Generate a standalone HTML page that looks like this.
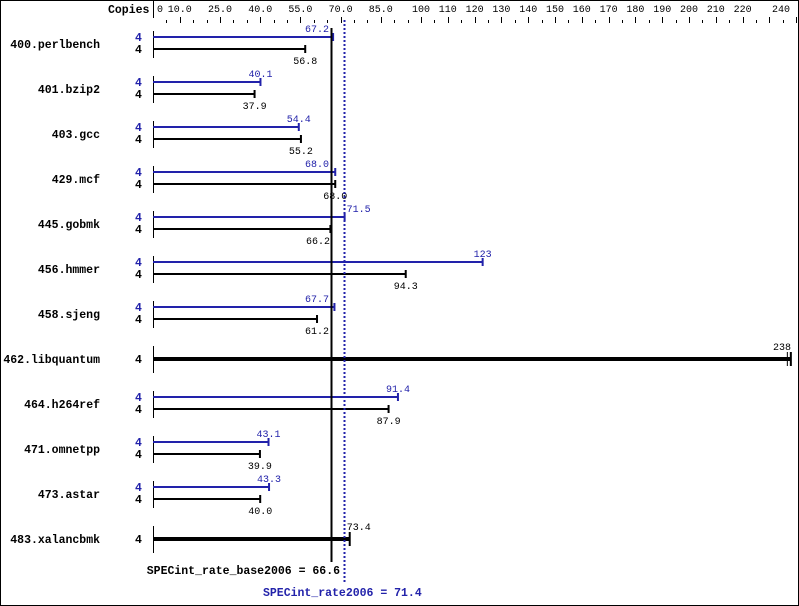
<!DOCTYPE html>
<html><head><meta charset="utf-8"><style>
html,body{margin:0;padding:0;background:#fff;}
svg{display:block;font-family:"Liberation Mono",monospace;}
</style></head><body>
<svg id="s" width="799" height="606" xmlns="http://www.w3.org/2000/svg"></svg>
<script>
var s=document.getElementById('s'),o='';
function X(v){return 153+v*2.68;}
o+='<rect x="0.5" y="0.5" width="798" height="605" fill="#fff" stroke="#000"/>';
o+='<line x1="153.5" y1="0" x2="153.5" y2="18" stroke="#000"/>';
o+='<text x="108" y="13" font-size="11.5" font-weight="bold">Copies</text>';
var labs=[[0,'0'],[10,'10.0'],[25,'25.0'],[40,'40.0'],[55,'55.0'],[70,'70.0'],[85,'85.0'],[100,'100'],[110,'110'],[120,'120'],[130,'130'],[140,'140'],[150,'150'],[160,'160'],[170,'170'],[180,'180'],[190,'190'],[200,'200'],[210,'210'],[220,'220'],[240,'240']];
labs.forEach(function(l){var x=X(l[0]);var a='middle';if(l[0]==0){x=157;a='start';}if(l[0]==240){x=790;a='end';}
o+='<text x="'+x+'" y="12" font-size="10" text-anchor="'+a+'">'+l[1]+'</text>';});
for(var v=5;v<=240;v+=5){var x=Math.round(X(v))+0.5;var tall=(v<100?(v%15==10||v==100):(v%10==0));o+='<line x1="'+x+'" y1="'+(tall?17:20)+'" x2="'+x+'" y2="23" stroke="#000"/>';}
var d=[['400.perlbench',67.2,56.8],['401.bzip2',40.1,37.9],['403.gcc',54.4,55.2],['429.mcf',68.0,68.0],['445.gobmk',71.5,66.2],['456.hmmer',123,94.3],['458.sjeng',67.7,61.2],['462.libquantum',null,238],['464.h264ref',91.4,87.9],['471.omnetpp',43.1,39.9],['473.astar',43.3,40.0],['483.xalancbmk',null,73.4]];
var B='#2222aa';
d.forEach(function(r,i){var y=44+45*i;
o+='<text x="100" y="'+(y+4)+'" font-size="11.5" font-weight="bold" text-anchor="end">'+r[0]+'</text>';
o+='<line x1="153.5" y1="'+(y-13)+'" x2="153.5" y2="'+(y+14)+'" stroke="#000"/>';
if(r[1]===null){var xe=X(r[2]);
o+='<text x="135" y="'+(y+4)+'" font-size="11.5" font-weight="bold">4</text>';
o+='<rect x="153" y="'+(y-2)+'" width="'+(xe-153)+'" height="4" fill="#000"/>';
o+='<rect x="'+(xe-1)+'" y="'+(y-7)+'" width="2" height="14" fill="#000"/>';
if(r[2]>200){o+='<rect x="'+(xe-4)+'" y="'+(y-7)+'" width="1" height="14" fill="#000"/><text x="791" y="'+(y-9)+'" font-size="10" text-anchor="end">238</text>';}
else o+='<text x="'+(xe-3)+'" y="'+(y-9)+'" font-size="10">'+r[2].toFixed(1)+'</text>';
}else{var yb=y-7,yk=y+5,xb=X(r[1]),xk=X(r[2]);
o+='<text x="135" y="'+(yb+4)+'" font-size="11.5" font-weight="bold" fill="'+B+'">4</text>';
o+='<text x="135" y="'+(yk+4)+'" font-size="11.5" font-weight="bold">4</text>';
o+='<rect x="153" y="'+(yb-1)+'" width="'+(xb-153)+'" height="2" fill="'+B+'"/>';
o+='<rect x="'+(xb-1)+'" y="'+(yb-4)+'" width="2" height="8" fill="'+B+'"/>';
o+='<rect x="153" y="'+(yk-1)+'" width="'+(xk-153)+'" height="2" fill="#000"/>';
o+='<rect x="'+(xk-1)+'" y="'+(yk-4)+'" width="2" height="8" fill="#000"/>';
var bl=r[1]>=100?String(r[1]):r[1].toFixed(1);
var bx=xb,ba='middle';
if(xb>340&&xb<370){bx=xb+2;ba='start';}else if(xb+12>329&&xb<340){bx=329;ba='end';}
o+='<text x="'+bx+'" y="'+(yb-5)+'" font-size="10" text-anchor="'+ba+'" fill="'+B+'">'+bl+'</text>';
var kx=xk,ka='middle';if(xk>318&&xk<332){kx=330;ka='end';}
o+='<text x="'+kx+'" y="'+(yk+15)+'" font-size="10" text-anchor="'+ka+'">'+r[2].toFixed(1)+'</text>';}
});
o+='<line x1="331.5" y1="28" x2="331.5" y2="562" stroke="#000" stroke-width="2"/>';
o+='<line x1="344.5" y1="20" x2="344.5" y2="582" stroke="'+B+'" stroke-width="2" stroke-dasharray="2,2"/>';
o+='<text x="340" y="574" font-size="11.5" font-weight="bold" text-anchor="end">SPECint_rate_base2006 = 66.6</text>';
o+='<text x="263" y="596" font-size="11.5" font-weight="bold" fill="'+B+'">SPECint_rate2006 = 71.4</text>';
s.innerHTML=o;
</script>
</body></html>
